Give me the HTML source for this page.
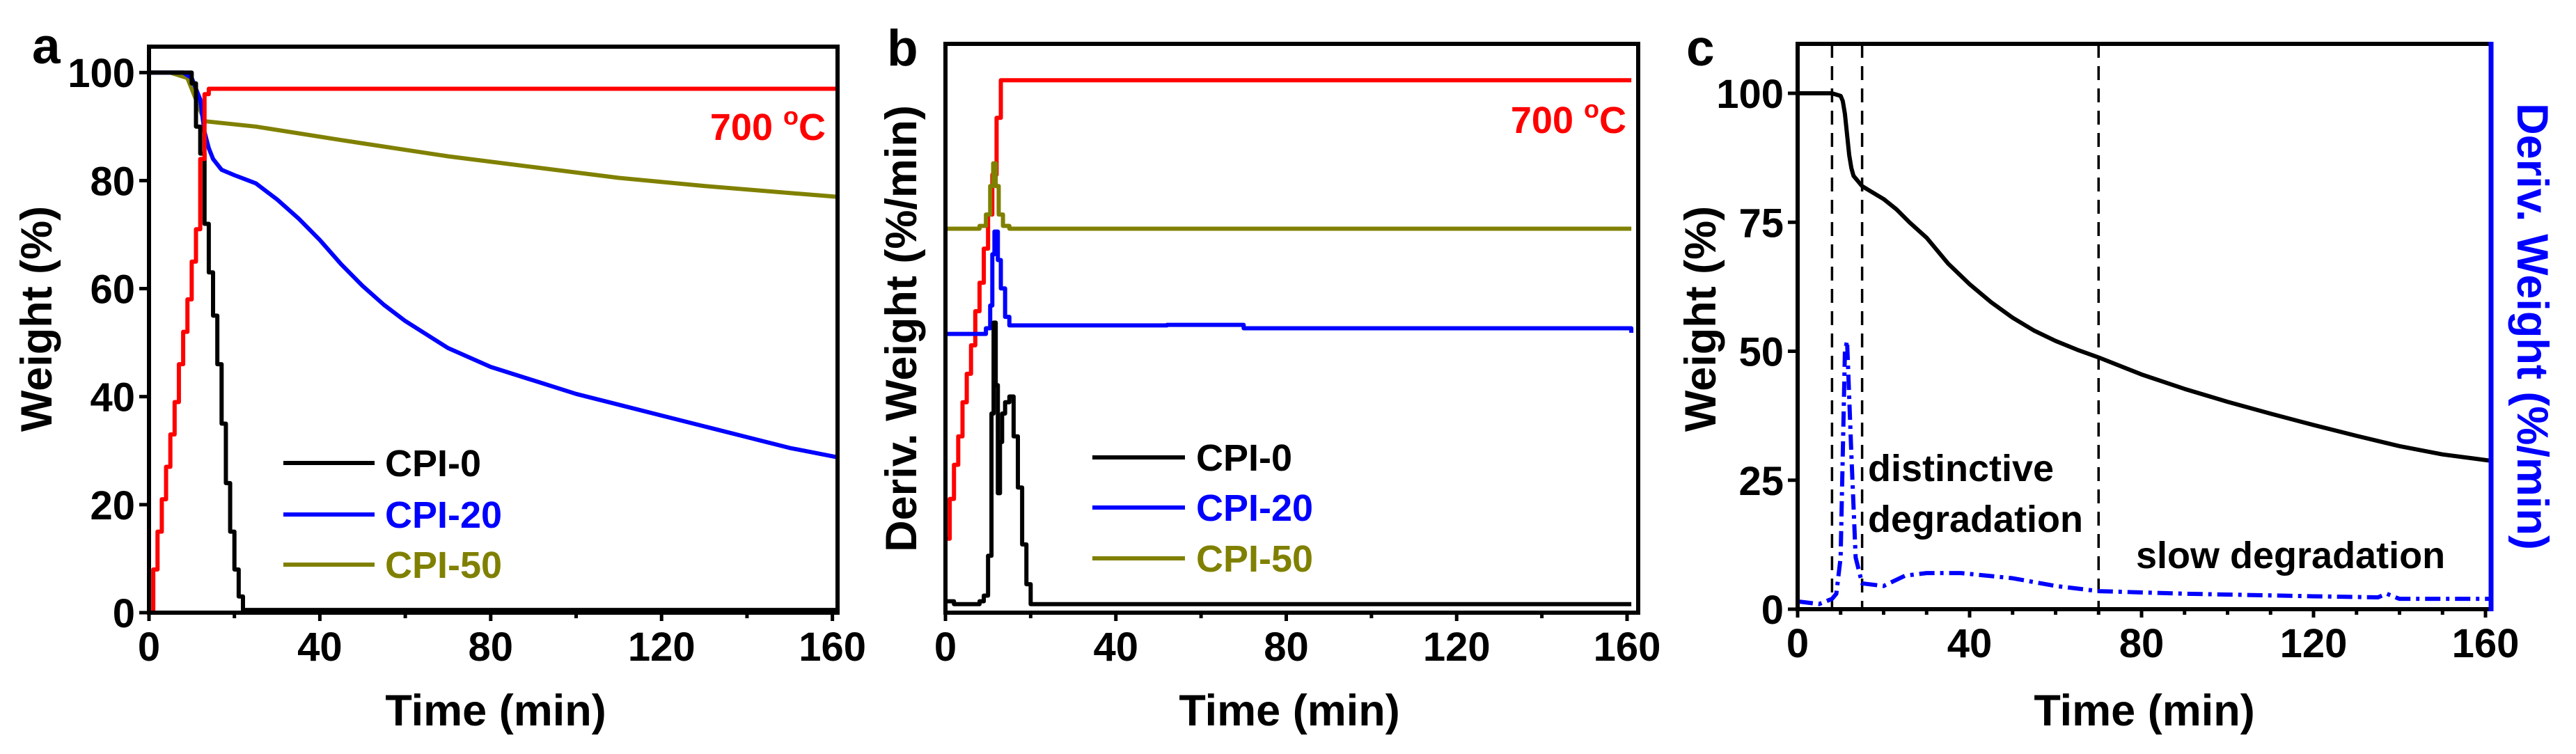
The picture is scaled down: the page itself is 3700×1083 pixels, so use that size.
<!DOCTYPE html>
<html><head><meta charset="utf-8"><style>
html,body{margin:0;padding:0;background:#fff;overflow:hidden;}
svg{display:block;font-family:"Liberation Sans",sans-serif;font-weight:bold;}
</style></head><body>
<svg id="fig" width="3700" height="1083" viewBox="0 0 3700 1083" xmlns="http://www.w3.org/2000/svg"></svg>
<script>
// ---- data ----
const xTicks = [0, 40, 80, 120, 160];
const yTicksA = [0, 20, 40, 60, 80, 100];
const yTicksC = [0, 25, 50, 75, 100];
// panel a (weight %)
const aCPI0_t = [0, 8, 10, 11, 12, 13, 14, 15, 16, 17, 18, 19, 20, 21, 22, 161];
const aCPI0_w = [100, 100, 98, 90, 85, 72, 63, 55, 46, 35, 24, 15, 8, 3, 0.5, 0];
const aCPI20_t = [0, 8, 10, 12, 13, 14, 15, 17, 20, 25, 30, 35, 40, 45, 50, 55, 60, 65, 70, 80, 90, 100, 110, 120, 130, 140, 150, 161];
const aCPI20_w = [100, 100, 99, 95, 89, 86, 84, 82, 81, 79.5, 76.5, 73, 69, 64.5, 60.5, 57, 54, 51.5, 49, 45.5, 43, 40.5, 38.5, 36.5, 34.5, 32.5, 30.5, 28.8];
const aCPI50_t = [0, 5, 9, 11, 13, 25, 45, 70, 90, 110, 130, 161];
const aCPI50_w = [100, 100, 99, 95, 91, 90, 87.5, 84.5, 82.5, 80.5, 79, 77];
const aTemp_t = [0, 1, 2, 3, 4, 5, 6, 7, 8, 9, 10, 11, 12, 13, 14, 161];
const aTemp_v = [0, 8, 15, 21, 27, 33, 39, 46, 52, 58, 65, 71, 84, 96, 97, 96.8];
// panel b (relative units 0-100)
const bCPI0_t = [0, 2, 8, 9, 10, 10.8, 11.3, 11.8, 12.3, 12.8, 13.3, 14, 15, 16, 17, 18, 19, 20, 161];
const bCPI0_v = [2, 1.5, 2, 3, 10, 35, 51, 40, 21, 30, 35, 37, 38, 31, 22, 12, 5, 1.5, 1.5];
const bCPI20_t = [0, 8, 9.5, 10.5, 11, 11.5, 12.3, 13, 14, 15, 20, 52, 70, 161];
const bCPI20_v = [49, 49, 50, 54, 63, 67, 62, 57, 52, 50.5, 50.5, 50.6, 50, 49.2];
const bCPI50_t = [0, 5, 8, 9.5, 10.5, 11.2, 11.8, 12.5, 13.5, 15, 161];
const bCPI50_v = [67.5, 67.5, 68, 70, 75, 79, 75, 70, 68, 67.5, 67.5];
const bTemp_t = [0, 1, 2, 3, 4, 5, 6, 7, 8, 9, 10, 11, 12, 13, 161];
const bTemp_v = [13, 20, 26, 31, 37, 42, 47, 53, 58, 64, 70, 77, 87, 93.6, 93.6];
// panel c
const cW_t = [0, 8, 10, 10.5, 11, 11.5, 12, 12.5, 13, 14, 15, 17, 20, 23, 26, 30, 35, 40, 45, 50, 55, 60, 65, 70, 80, 90, 100, 110, 120, 130, 140, 150, 161];
const cW_v = [100, 100, 99.5, 98.5, 96, 92, 88, 85.5, 84, 83, 82, 81, 79.5, 77.5, 75, 72, 67, 63, 59.5, 56.5, 54, 52, 50.3, 48.8, 45.5, 42.7, 40.2, 37.9, 35.7, 33.6, 31.6, 30, 28.8];
const cD_t = [0, 5, 8, 9, 10, 11, 11.5, 12.5, 13.5, 15, 20, 25, 30, 38, 50, 60, 70, 90, 120, 135, 137, 140, 161];
const cD_v = [1.5, 1, 2, 3, 10, 50, 52, 30, 10, 5, 4.5, 6.5, 7, 7, 6, 4.5, 3.5, 3, 2.5, 2.3, 3, 2, 2];
const cStages = [8, 15, 70];

const NS = "http://www.w3.org/2000/svg";
const svg = document.getElementById('fig');
function mk(tag, attrs, parent) {
  const e = document.createElementNS(NS, tag);
  for (const k in attrs) e.setAttribute(k, attrs[k]);
  (parent || svg).appendChild(e);
  return e;
}
function txt(s, attrs, parent) { const e = mk('text', attrs, parent); e.textContent = s; return e; }
function axes(x0, x1, xmax, yb, yt, ymin, ymax) {
  return {
    x: t => x0 + (t / xmax) * (x1 - x0),
    y: v => yb - (v - ymin) / (ymax - ymin) * (yb - yt)
  };
}
function pathD(ts, vs, ax, step) {
  let d = '';
  for (let i = 0; i < ts.length; i++) {
    const X = ax.x(ts[i]), Y = ax.y(vs[i]);
    if (i === 0) d += 'M' + X + ' ' + Y;
    else if (step) d += 'H' + X + 'V' + Y;
    else d += 'L' + X + ' ' + Y;
  }
  return d;
}
function frame(g, x0, x1, yt, yb, rightColor) {
  const r = mk('rect', {x: x0, y: yt, width: x1 - x0, height: yb - yt, fill: 'none', stroke: '#000', 'stroke-width': 6}, g);
  
  
  if (rightColor) {
    const l = mk('line', {x1: x1, y1: yt - 3, x2: x1, y2: yb + 3, stroke: rightColor, 'stroke-width': 7}, g);
    
    
  }
}
function xAxis(g, ax, yb, major, minor) {
  major.forEach(t => {
    mk('line', {x1: ax.x(t), y1: yb, x2: ax.x(t), y2: yb + 12, stroke: '#000', 'stroke-width': 5}, g);
    const l = txt(String(t), {x: ax.x(t), y: yb + 69, 'text-anchor': 'middle', 'font-size': 58}, g);
    
    
  });
  minor.forEach(t => mk('line', {x1: ax.x(t), y1: yb, x2: ax.x(t), y2: yb + 8, stroke: '#000', 'stroke-width': 5}, g));
}
function yAxis(g, ax, x0, ticks) {
  ticks.forEach(v => {
    mk('line', {x1: x0, y1: ax.y(v), x2: x0 - 14, y2: ax.y(v), stroke: '#000', 'stroke-width': 5}, g);
    const l = txt(String(v), {x: x0 - 20, y: ax.y(v) + 21, 'text-anchor': 'end', 'font-size': 58}, g);
    
    
  });
}
function series(g, ts, vs, ax, color, name, step, dash) {
  const p = mk('path', {d: pathD(ts, vs, ax, step), fill: 'none', stroke: color, 'stroke-width': 6, 'stroke-linejoin': 'round'}, g);
  if (dash) p.setAttribute('stroke-dasharray', dash);
  
  
}
function legend(g, x0, x1, ys, tx) {
  const items = [['CPI-0', '#000'], ['CPI-20', '#0000ff'], ['CPI-50', '#808000']];
  items.forEach((it, i) => {
    mk('line', {x1: x0, y1: ys[i], x2: x1, y2: ys[i], stroke: it[1], 'stroke-width': 6}, g);
    const t = txt(it[0], {x: tx, y: ys[i] + 19, 'font-size': 54, fill: it[1]}, g);
    
    
  });
}
function tempLabel(g, xr, yb) {
  const t = mk('text', {x: xr, y: yb, 'text-anchor': 'end', 'font-size': 54, fill: '#ff0000'}, g);
  t.textContent = '700 ';
  const s = mk('tspan', {'font-size': 36, dy: -22}, t); s.textContent = 'o';
  const c = mk('tspan', {dy: 22}, t); c.textContent = 'C';
  
  
}
function clip(id, x0, x1, yt, yb) {
  const cp = mk('clipPath', {id: id});
  mk('rect', {x: x0, y: yt, width: x1 - x0, height: yb - yt}, cp);
}

// ---- Panel a ----
const gA = mk('g', {});  
const axA = axes(214, 1203, 161.2, 880, 67, 0, 104.8);
clip('ca', 214, 1203, 67, 880);
const sA = mk('g', {'clip-path': 'url(#ca)'}, gA);
series(sA, aCPI50_t, aCPI50_w, axA, '#808000', 'cpi-50-line', false);
series(sA, aCPI20_t, aCPI20_w, axA, '#0000ff', 'cpi-20-line', false);
series(sA, aCPI0_t, aCPI0_w, axA, '#000', 'cpi-0-line', true);
series(sA, aTemp_t, aTemp_v, axA, '#ff0000', 'temperature-line', true);
frame(gA, 214, 1203, 67, 880);
xAxis(gA, axA, 880, xTicks, [20, 60, 100, 140]);
yAxis(gA, axA, 214, yTicksA);
legend(gA, 407, 538, [665, 739, 811], 553);
tempLabel(gA, 1186, 201);
txt('a', {x: 46, y: 91, 'font-size': 73}, gA);
txt('Time (min)', {x: 712, y: 1042, 'text-anchor': 'middle', 'font-size': 63}, gA);
txt('Weight (%)', {transform: 'translate(74,458) rotate(-90)', 'text-anchor': 'middle', 'font-size': 63}, gA);

// ---- Panel b ----
const gB = mk('g', {});  
const axB = axes(1358, 2337, 160, 880, 63, 0, 100);
clip('cb', 1358, 2353, 63, 880);
const sB = mk('g', {'clip-path': 'url(#cb)'}, gB);
series(sB, bTemp_t, bTemp_v, axB, '#ff0000', 'temperature-line', true);
series(sB, bCPI50_t, bCPI50_v, axB, '#808000', 'cpi-50-deriv', true);
series(sB, bCPI20_t, bCPI20_v, axB, '#0000ff', 'cpi-20-deriv', true);
series(sB, bCPI0_t, bCPI0_v, axB, '#000', 'cpi-0-deriv', true);
frame(gB, 1358, 2353, 63, 880);
xAxis(gB, axB, 880, xTicks, [20, 60, 100, 140]);
legend(gB, 1569, 1702, [657, 729, 802], 1718);
tempLabel(gB, 2336, 191);
txt('b', {x: 1274, y: 94, 'font-size': 73}, gB);
txt('Time (min)', {x: 1852, y: 1042, 'text-anchor': 'middle', 'font-size': 63}, gB);
txt('Deriv. Weight (%/min)', {transform: 'translate(1316,472) rotate(-90)', 'text-anchor': 'middle', 'font-size': 63}, gB);

// ---- Panel c ----
const gC = mk('g', {});  
const axC = axes(2582, 3570, 160, 875, 134, 0, 100);
clip('cc', 2582, 3578, 63, 875);
const sC = mk('g', {'clip-path': 'url(#cc)'}, gC);
cStages.forEach(t => {
  const l = mk('line', {x1: axC.x(t), y1: 63, x2: axC.x(t), y2: 875, stroke: '#000', 'stroke-width': 3.5, 'stroke-dasharray': '20 12'}, sC);
  
  
});
series(sC, cW_t, cW_v, axC, '#000', 'weight-line', false);
series(sC, cD_t, cD_v, axC, '#0000ff', 'deriv-weight-line', false, '22 8 5 8');
frame(gC, 2582, 3578, 63, 875, '#0000ff');
xAxis(gC, axC, 875, xTicks, [10,20,30,50,60,70,90,100,110,130,140,150]);
yAxis(gC, axC, 2582, yTicksC);
txt('c', {x: 2422, y: 94, 'font-size': 73}, gC);
txt('Time (min)', {x: 3080, y: 1042, 'text-anchor': 'middle', 'font-size': 63}, gC);
txt('Weight (%)', {transform: 'translate(2464,458) rotate(-90)', 'text-anchor': 'middle', 'font-size': 63}, gC);
txt('Deriv. Weight (%/min)', {transform: 'translate(3616,469) rotate(90)', 'text-anchor': 'middle', 'font-size': 63, fill: '#0000ff'}, gC);
txt('distinctive', {x: 2683, y: 691, 'font-size': 54}, gC);
txt('degradation', {x: 2683, y: 764, 'font-size': 54}, gC);
txt('slow degradation', {x: 3068, y: 816, 'font-size': 54}, gC);
</script>
</body></html>
